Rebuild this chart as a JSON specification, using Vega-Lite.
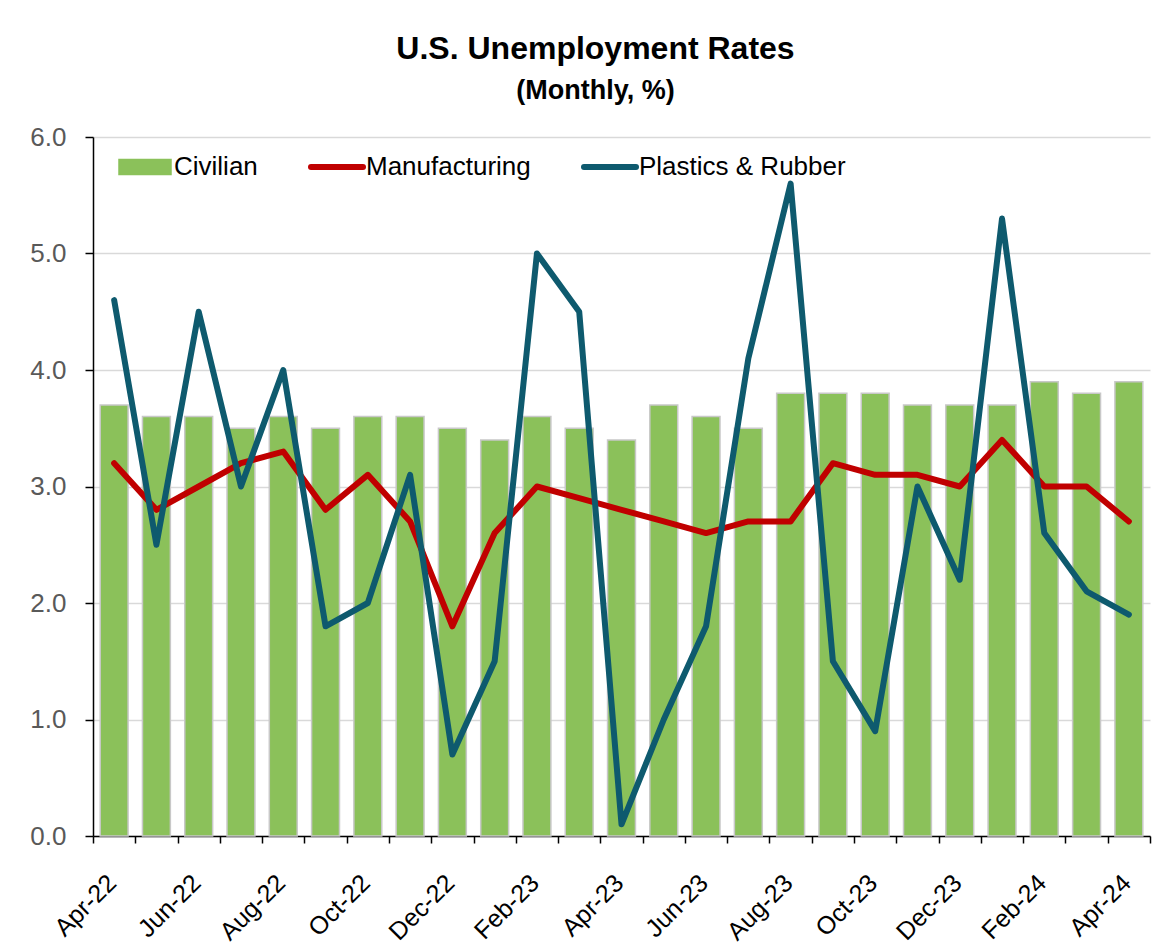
{
  "$schema": "https://vega.github.io/schema/vega-lite/v6.json",
  "width": 1057,
  "height": 699,
  "autosize": "none",
  "padding": {"left": 93, "top": 137, "right": 21, "bottom": 114},
  "background": "white",
  "config": {
    "font": "Liberation Sans",
    "view": {"stroke": null}
  },
  "title": {
    "text": "U.S. Unemployment Rates",
    "subtitle": "(Monthly, %)",
    "font": "Liberation Sans",
    "subtitleFont": "Liberation Sans",
    "fontSize": 32,
    "subtitleFontSize": 27,
    "fontWeight": "bold",
    "subtitleFontWeight": "bold",
    "color": "#000000",
    "subtitleColor": "#000000",
    "anchor": "middle",
    "frame": "group",
    "dx": -26,
    "offset": 19,
    "subtitlePadding": 12
  },
  "data": {
    "values": [
      {"month": "Apr-22", "series": "Civilian", "value": 3.7},
      {"month": "May-22", "series": "Civilian", "value": 3.6},
      {"month": "Jun-22", "series": "Civilian", "value": 3.6},
      {"month": "Jul-22", "series": "Civilian", "value": 3.5},
      {"month": "Aug-22", "series": "Civilian", "value": 3.6},
      {"month": "Sep-22", "series": "Civilian", "value": 3.5},
      {"month": "Oct-22", "series": "Civilian", "value": 3.6},
      {"month": "Nov-22", "series": "Civilian", "value": 3.6},
      {"month": "Dec-22", "series": "Civilian", "value": 3.5},
      {"month": "Jan-23", "series": "Civilian", "value": 3.4},
      {"month": "Feb-23", "series": "Civilian", "value": 3.6},
      {"month": "Mar-23", "series": "Civilian", "value": 3.5},
      {"month": "Apr-23", "series": "Civilian", "value": 3.4},
      {"month": "May-23", "series": "Civilian", "value": 3.7},
      {"month": "Jun-23", "series": "Civilian", "value": 3.6},
      {"month": "Jul-23", "series": "Civilian", "value": 3.5},
      {"month": "Aug-23", "series": "Civilian", "value": 3.8},
      {"month": "Sep-23", "series": "Civilian", "value": 3.8},
      {"month": "Oct-23", "series": "Civilian", "value": 3.8},
      {"month": "Nov-23", "series": "Civilian", "value": 3.7},
      {"month": "Dec-23", "series": "Civilian", "value": 3.7},
      {"month": "Jan-24", "series": "Civilian", "value": 3.7},
      {"month": "Feb-24", "series": "Civilian", "value": 3.9},
      {"month": "Mar-24", "series": "Civilian", "value": 3.8},
      {"month": "Apr-24", "series": "Civilian", "value": 3.9},
      {"month": "Apr-22", "series": "Manufacturing", "value": 3.2},
      {"month": "May-22", "series": "Manufacturing", "value": 2.8},
      {"month": "Jun-22", "series": "Manufacturing", "value": 3.0},
      {"month": "Jul-22", "series": "Manufacturing", "value": 3.2},
      {"month": "Aug-22", "series": "Manufacturing", "value": 3.3},
      {"month": "Sep-22", "series": "Manufacturing", "value": 2.8},
      {"month": "Oct-22", "series": "Manufacturing", "value": 3.1},
      {"month": "Nov-22", "series": "Manufacturing", "value": 2.7},
      {"month": "Dec-22", "series": "Manufacturing", "value": 1.8},
      {"month": "Jan-23", "series": "Manufacturing", "value": 2.6},
      {"month": "Feb-23", "series": "Manufacturing", "value": 3.0},
      {"month": "Mar-23", "series": "Manufacturing", "value": 2.9},
      {"month": "Apr-23", "series": "Manufacturing", "value": 2.8},
      {"month": "May-23", "series": "Manufacturing", "value": 2.7},
      {"month": "Jun-23", "series": "Manufacturing", "value": 2.6},
      {"month": "Jul-23", "series": "Manufacturing", "value": 2.7},
      {"month": "Aug-23", "series": "Manufacturing", "value": 2.7},
      {"month": "Sep-23", "series": "Manufacturing", "value": 3.2},
      {"month": "Oct-23", "series": "Manufacturing", "value": 3.1},
      {"month": "Nov-23", "series": "Manufacturing", "value": 3.1},
      {"month": "Dec-23", "series": "Manufacturing", "value": 3.0},
      {"month": "Jan-24", "series": "Manufacturing", "value": 3.4},
      {"month": "Feb-24", "series": "Manufacturing", "value": 3.0},
      {"month": "Mar-24", "series": "Manufacturing", "value": 3.0},
      {"month": "Apr-24", "series": "Manufacturing", "value": 2.7},
      {"month": "Apr-22", "series": "Plastics & Rubber", "value": 4.6},
      {"month": "May-22", "series": "Plastics & Rubber", "value": 2.5},
      {"month": "Jun-22", "series": "Plastics & Rubber", "value": 4.5},
      {"month": "Jul-22", "series": "Plastics & Rubber", "value": 3.0},
      {"month": "Aug-22", "series": "Plastics & Rubber", "value": 4.0},
      {"month": "Sep-22", "series": "Plastics & Rubber", "value": 1.8},
      {"month": "Oct-22", "series": "Plastics & Rubber", "value": 2.0},
      {"month": "Nov-22", "series": "Plastics & Rubber", "value": 3.1},
      {"month": "Dec-22", "series": "Plastics & Rubber", "value": 0.7},
      {"month": "Jan-23", "series": "Plastics & Rubber", "value": 1.5},
      {"month": "Feb-23", "series": "Plastics & Rubber", "value": 5.0},
      {"month": "Mar-23", "series": "Plastics & Rubber", "value": 4.5},
      {"month": "Apr-23", "series": "Plastics & Rubber", "value": 0.1},
      {"month": "May-23", "series": "Plastics & Rubber", "value": 1.0},
      {"month": "Jun-23", "series": "Plastics & Rubber", "value": 1.8},
      {"month": "Jul-23", "series": "Plastics & Rubber", "value": 4.1},
      {"month": "Aug-23", "series": "Plastics & Rubber", "value": 5.6},
      {"month": "Sep-23", "series": "Plastics & Rubber", "value": 1.5},
      {"month": "Oct-23", "series": "Plastics & Rubber", "value": 0.9},
      {"month": "Nov-23", "series": "Plastics & Rubber", "value": 3.0},
      {"month": "Dec-23", "series": "Plastics & Rubber", "value": 2.2},
      {"month": "Jan-24", "series": "Plastics & Rubber", "value": 5.3},
      {"month": "Feb-24", "series": "Plastics & Rubber", "value": 2.6},
      {"month": "Mar-24", "series": "Plastics & Rubber", "value": 2.1},
      {"month": "Apr-24", "series": "Plastics & Rubber", "value": 1.9}
    ]
  },
  "encoding": {
    "x": {
      "field": "month",
      "type": "ordinal",
      "sort": null,
      "scale": {"paddingInner": 0, "paddingOuter": 0},
      "axis": {
        "title": null,
        "tickBand": "extent",
        "labelAngle": -45,
        "labelFontSize": 25,
        "labelColor": "#000000",
        "labelPadding": 27,
        "labelOffset": -11,
        "labelExpr": "test(/^(Apr|Jun|Aug|Oct|Dec|Feb)/, datum.value) ? datum.value : ''",
        "domainColor": "#000000",
        "domainWidth": 1.5,
        "tickColor": "#000000",
        "tickWidth": 1.5,
        "tickSize": 7,
        "grid": false,
        "labelOverlap": false
      }
    },
    "y": {
      "field": "value",
      "type": "quantitative",
      "scale": {"domain": [0, 6], "nice": false},
      "axis": {
        "title": null,
        "values": [0, 1, 2, 3, 4, 5, 6],
        "format": ".1f",
        "labelFontSize": 26,
        "labelColor": "#595959",
        "labelPadding": 19,
        "domainColor": "#000000",
        "domainWidth": 1.5,
        "tickColor": "#000000",
        "tickWidth": 1.5,
        "tickSize": 8,
        "grid": true,
        "gridColor": "#d9d9d9",
        "gridWidth": 1.5
      }
    },
    "color": {
      "field": "series",
      "type": "nominal",
      "scale": {
        "domain": ["Civilian", "Manufacturing", "Plastics & Rubber"],
        "range": ["#8BC15A", "#C00000", "#0E5A6E"]
      },
      "legend": {
        "title": null,
        "orient": "top-left",
        "direction": "horizontal",
        "offset": 17,
        "padding": 0,
        "labelFont": "Liberation Sans",
        "labelFontSize": 26,
        "labelColor": "#000000",
        "labelLimit": 400,
        "labelOffset": 16,
        "symbolOffset": 22,
        "columnPadding": 41,
        "symbolSize": 2704,
        "encode": {
          "symbols": {
            "update": {
              "shape": {"signal": "datum.value === 'Civilian' ? 'M-1,-0.29H1V0.29H-1Z' : 'stroke'"},
              "fill": {"signal": "datum.value === 'Civilian' ? '#8BC15A' : 'transparent'"},
              "stroke": {"signal": "datum.value === 'Civilian' ? '#c8c8c8' : (datum.value === 'Manufacturing' ? '#C00000' : '#0E5A6E')"},
              "strokeWidth": {"signal": "datum.value === 'Civilian' ? 1.5 : 6"},
              "strokeCap": {"value": "round"},
              "opacity": {"value": 1}
            }
          }
        }
      }
    }
  },
  "layer": [
    {
      "transform": [{"filter": "datum.series === 'Civilian'"}],
      "mark": {"type": "bar", "width": {"band": 0.66}, "stroke": "#c8c8c8", "strokeWidth": 1.5, "opacity": 1}
    },
    {
      "transform": [{"filter": "datum.series !== 'Civilian'"}],
      "mark": {"type": "line", "strokeWidth": 6, "strokeCap": "round", "strokeJoin": "round"}
    }
  ]
}
